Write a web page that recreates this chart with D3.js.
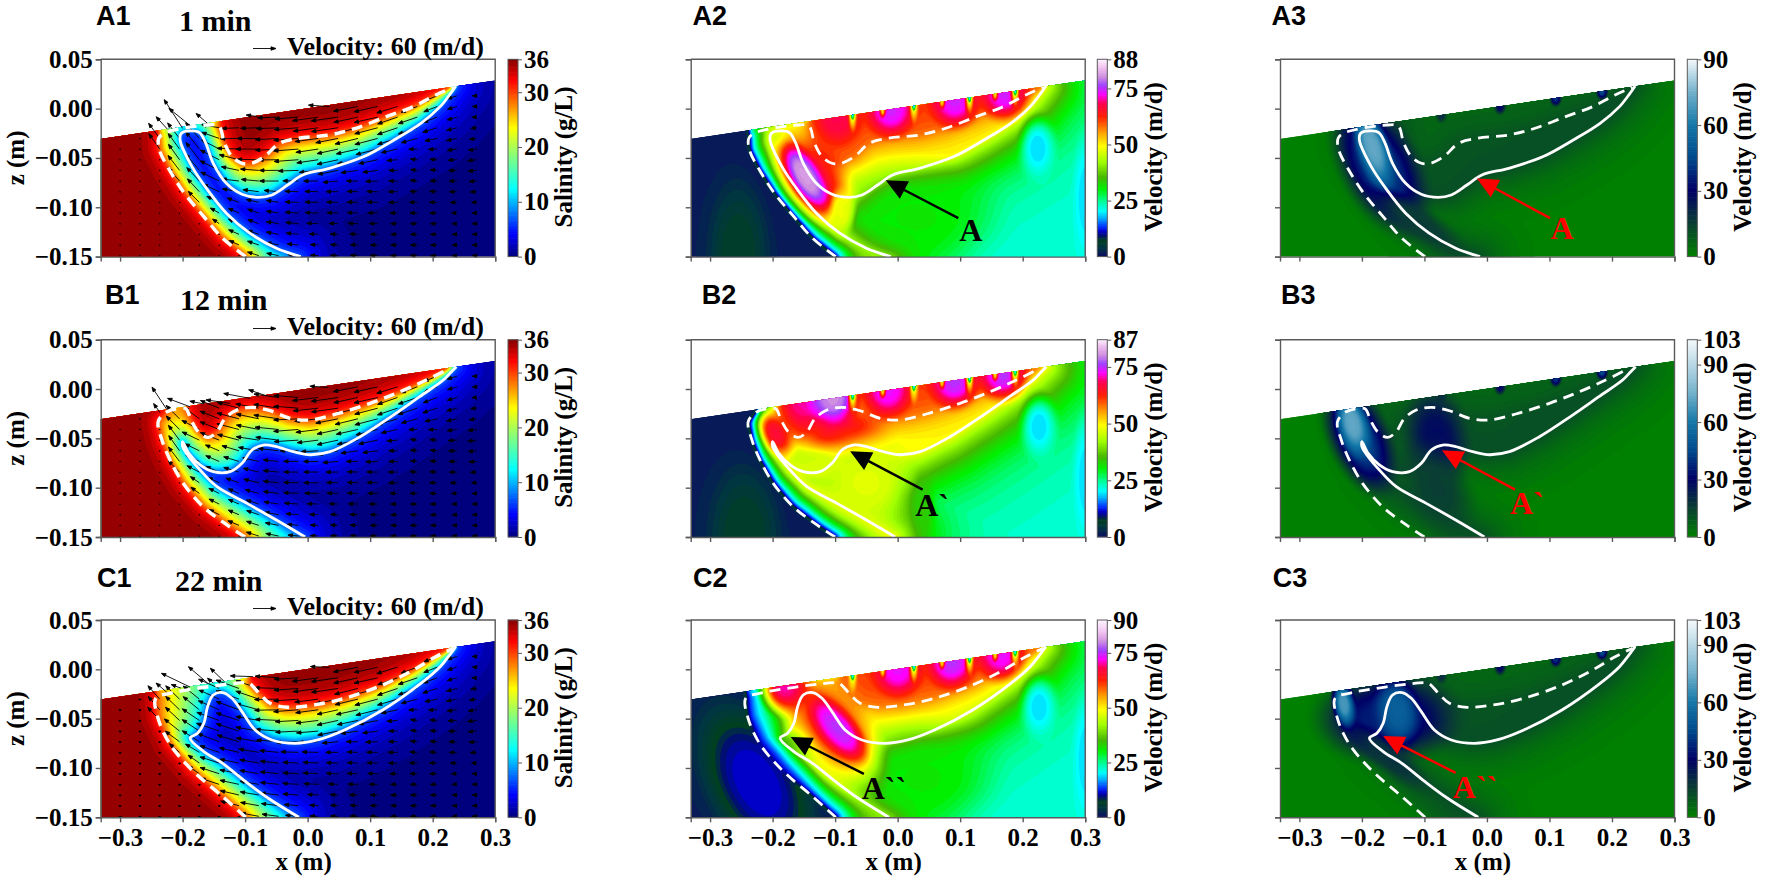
<!DOCTYPE html>
<html>
<head>
<meta charset="utf-8">
<script src="https://cdn.jsdelivr.net/npm/d3@7"></script>
<style>
  html, body { margin: 0; padding: 0; background: #fff; }
  svg { display: block; }
  text { font-family: "Liberation Serif", serif; font-weight: bold; fill: #000; }
  .head { font-family: "Liberation Sans", Arial, sans-serif; }
</style>
</head>
<body>
<svg id="fig" width="1772" height="879"></svg>
<script>
// ---- values, all in data units (x m, z m) ----
const xTicks = [-0.3, -0.2, -0.1, 0, 0.1, 0.2, 0.3];
const zTicks = [0.05, 0, -0.05, -0.1, -0.15];
const surfaceX = [-0.331, 0.3];
const surfaceZ = [-0.0307, 0.0284];
const rowNames = ["A", "B", "C"];
const rowTimes = ["1 min", "12 min", "22 min"];

// solid line = 10% salinity, dashed = 90% salinity
const solidA = [[-0.011,-0.15],[-0.05,-0.1416],[-0.093,-0.126],[-0.13,-0.106],[-0.16,-0.0824],[-0.185,-0.0588],[-0.204,-0.0318],[-0.202,-0.025],[-0.188,-0.0226],[-0.173,-0.0243],[-0.163,-0.035],[-0.151,-0.0554],[-0.13,-0.0757],[-0.105,-0.0868],[-0.078,-0.0899],[-0.057,-0.0875],[-0.032,-0.0774],[-0.008,-0.0672],[0.035,-0.0605],[0.09,-0.0486],[0.138,-0.0318],[0.181,-0.0149],[0.212,0.002],[0.227,0.0139],[0.237,0.023]];
const wedgeA = [[-0.099,-0.15],[-0.136,-0.1314],[-0.166,-0.1095],[-0.197,-0.0858],[-0.221,-0.0622],[-0.237,-0.0419],[-0.238,-0.03]];
const linkA = [[-0.227,-0.0243],[-0.16,-0.0166]];
const uspA = [[-0.142,-0.0176],[-0.133,-0.0351],[-0.121,-0.0486],[-0.105,-0.0554],[-0.09,-0.0554],[-0.069,-0.0486],[-0.045,-0.0351],[-0.014,-0.03],[0.035,-0.0267],[0.077,-0.0199],[0.126,-0.0081],[0.169,0.002],[0.205,0.0139],[0.233,0.0216]];

const solidB = [[-0.004,-0.15],[-0.05,-0.1328],[-0.097,-0.1159],[-0.145,-0.099],[-0.172,-0.0821],[-0.19,-0.0686],[-0.2,-0.0584],[-0.2,-0.0534],[-0.19,-0.0652],[-0.172,-0.077],[-0.151,-0.0838],[-0.124,-0.0838],[-0.105,-0.0753],[-0.089,-0.0618],[-0.071,-0.0568],[-0.05,-0.0584],[-0.023,-0.0635],[0.004,-0.0666],[0.036,-0.0635],[0.084,-0.0483],[0.137,-0.0264],[0.179,-0.0078],[0.217,0.0091],[0.23,0.0176],[0.238,0.0226]];
const wedgeB = [[-0.1,-0.15],[-0.129,-0.1378],[-0.167,-0.1193],[-0.199,-0.0956],[-0.22,-0.072],[-0.233,-0.0517],[-0.239,-0.0331],[-0.225,-0.023]];
const linkB = [[-0.196,-0.0196]];
const uspB = [[-0.193,-0.0213],[-0.185,-0.0331],[-0.175,-0.0432],[-0.159,-0.049],[-0.145,-0.0432],[-0.132,-0.0297],[-0.113,-0.0213],[-0.089,-0.0186],[-0.06,-0.022],[-0.028,-0.0297],[0.004,-0.0314],[0.046,-0.0253],[0.1,-0.0145],[0.148,-0.0027],[0.19,0.0091],[0.227,0.0209]];

const solidC = [[-0.014,-0.15],[-0.063,-0.1307],[-0.099,-0.1139],[-0.136,-0.0953],[-0.166,-0.0834],[-0.188,-0.0699],[-0.176,-0.0649],[-0.166,-0.0547],[-0.16,-0.0378],[-0.151,-0.026],[-0.136,-0.0236],[-0.121,-0.0294],[-0.105,-0.0429],[-0.084,-0.0615],[-0.057,-0.0716],[-0.02,-0.075],[0.016,-0.0716],[0.059,-0.0615],[0.12,-0.0412],[0.181,-0.0142],[0.212,0.0027],[0.227,0.0145],[0.237,0.023]];
const wedgeC = [[-0.099,-0.15],[-0.136,-0.129],[-0.185,-0.102],[-0.221,-0.075],[-0.24,-0.048],[-0.243,-0.0294]];
const linkC = [[-0.221,-0.0243],[-0.099,-0.0135]];
const uspC = [[-0.093,-0.0142],[-0.075,-0.026],[-0.06,-0.0345],[-0.032,-0.0385],[0.01,-0.0361],[0.059,-0.0294],[0.12,-0.0159],[0.169,-0.0007],[0.205,0.0128],[0.233,0.0213]];

// colour bars: value stops and colours
const salStops = [0, 4, 12.2, 18, 23.4, 32, 36];
const salColors = ["#00007f", "#0000ff", "#00ffff", "#80ff80", "#ffff00", "#ff0000", "#7f0000"];
const velStops = [0, 4, 7, 9, 11, 13, 17, 20, 24, 30, 35, 42, 49, 55, 62, 68, 72, 76, 80, 84];
const velColors = ["#0a1060", "#00363f", "#004020", "#000f70", "#0000c8", "#0030ff", "#00b0ff", "#00ffff", "#00ffa0", "#00f000", "#45b800", "#a0ff00", "#ffff00", "#ffa000", "#ff2000", "#ff0050", "#ff00ff", "#a040ff", "#d090e0", "#f0c0f0", "#fff8ff"];
const devStops = [0, 15, 30, 45, 60, 75];
const devColors = ["#008000", "#0a3d33", "#000066", "#004a8c", "#1478a8", "#74b2cc", "#f6fafc"];

const salMax = [36, 36, 36];
const velMax = [88, 87, 90];
const devMax = [90, 103, 103];
const salTicks = [0, 10, 20, 30];
const velTicks = [0, 25, 50, 75];
const devTicks = [0, 30, 60, 90];

// zone values: [near line, far away, fall-off in px]
const salField = { wedge: 30, usp: 30, solid: 7, left: [30, 36, 8], top: [30, 36, 10], fresh: [7, 0, 24] };
const velFieldA = { wedge: 9, usp: 58, solid: 50, left: [1, 2, 15], top: [58, 62, 15], fresh: [48, 22, 28] };
const velFieldB = { wedge: 9, usp: 57, solid: 50, left: [1, 2, 15], top: [57, 62, 15], fresh: [49, 22, 34] };
const velFieldC = { wedge: 9, usp: 57, solid: 47, left: [1, 2, 15], top: [57, 62, 15], fresh: [47, 22, 28] };
const devField = { wedge: 5, usp: 11, solid: 12, left: [3, 0, 20], top: [11, 6, 15], fresh: [12, 0, 22] };

// soft patches in the fields: x, z, long radius px, short radius px, value, angle deg
const patchesA2 = [[-0.255,-0.15,42,105,6.8,0],[0.03,-0.11,105,70,31,0],[-0.135,-0.07,66,40,66,56],[-0.09,-0.105,18,30,48,0],[-0.148,-0.069,52,20,81,58],[0.224,-0.04,24,42,19.5,0],[0.3,-0.09,16,80,19.5,0]];
const patchesB2 = [[-0.245,-0.15,50,100,6.8,0],[-0.195,-0.045,34,20,66,60],[-0.09,-0.042,62,32,65,0],[-0.05,-0.095,70,65,47,0],[-0.133,-0.075,34,16,46,0],[0.04,-0.12,16,45,34,0],[0.226,-0.038,24,42,19.5,0],[0.3,-0.09,16,80,19.5,0]];
const patchesC2 = [[-0.225,-0.115,115,65,11.5,62],[0.04,-0.11,95,70,31,0],[-0.105,-0.06,88,44,64,52],[-0.096,-0.06,50,22,75,50],[0.226,-0.038,24,42,19.5,0],[0.3,-0.09,16,80,19.5,0]];
const patchesA3 = [[-0.172,-0.059,88,46,42,62],[-0.11,-0.115,72,20,16,35],[-0.183,-0.0385,56,20,72,72]];
const patchesB3 = [[-0.205,-0.05,72,36,44,65],[-0.08,-0.05,62,38,28,80],[-0.08,-0.1,62,40,15,60],[-0.215,-0.035,42,20,72,75]];
const patchesC3 = [[-0.16,-0.05,85,52,36,0],[-0.155,-0.09,62,18,18,40],[-0.144,-0.042,46,28,52,80],[-0.229,-0.035,32,14,68,80]];

// surface outflow cells: x, peak value
const lobesA = [[-0.097,68],[-0.011,74],[0.091,74],[0.171,74]];
const lobesB = [[-0.15,70],[-0.104,80],[-0.016,73],[0.09,75],[0.168,75]];
const lobesC = [[-0.18,70],[-0.0,73],[0.086,75],[0.165,73]];
const spikeX = [-0.072, 0.026, 0.115, 0.188];
const smallSpikeX = [-0.024, 0.071, 0.156];
const devSpikes = [[0.11,40],[0.184,45],[0.021,30],[-0.073,20]];

// velocity samples for the quiver (m/d): x, z, u, w
const flowCommon = [[0.28,0.01,-12,0],[0.28,-0.13,-12,0],[0.15,-0.13,-18,0],[0.05,-0.14,-20,1],[0.18,-0.06,-18,2],[0.08,-0.09,-28,1],[0.2,0.012,-35,-14],[0.15,-0.01,-52,-18],[0.1,-0.02,-60,-16],[0.12,-0.005,-62,-14],[0.05,-0.01,-70,-10],[0.05,-0.045,-55,-12],[-0.02,-0.04,-65,-5]];
const flowA = [[-0.16,-0.125,-16,12],[-0.2,-0.08,-30,35],[-0.22,-0.05,-28,40],[-0.18,-0.05,-35,45],[-0.1,-0.11,-28,12],[-0.05,-0.1,-32,5],[0,-0.09,-35,1],[-0.13,-0.06,-50,25],[-0.1,-0.07,-45,5],[-0.05,-0.065,-50,0],[-0.09,-0.04,-60,0],[-0.1,-0.02,-45,-2]];
const flowB = [[-0.22,-0.06,-28,40],[-0.2,-0.03,-35,35],[-0.15,-0.045,-50,20],[-0.1,-0.04,-58,15],[-0.15,-0.07,-35,15],[-0.17,-0.11,-22,16],[-0.12,-0.11,-28,12],[-0.1,-0.08,-40,12],[-0.05,-0.08,-40,4],[-0.06,-0.05,-60,8],[-0.04,-0.025,-65,10],[0,-0.08,-38,0]];
const flowC = [[-0.22,-0.04,-30,35],[-0.19,-0.04,-42,35],[-0.17,-0.06,-45,30],[-0.19,-0.1,-22,22],[-0.15,-0.1,-50,16],[-0.1,-0.1,-50,10],[-0.05,-0.1,-48,5],[0,-0.1,-40,2],[-0.13,-0.06,-60,20],[-0.1,-0.03,-60,22],[-0.07,-0.06,-60,10],[-0.02,-0.06,-60,-3]];
// seawater on the left of the wedge barely moves, straight down (m/d)
const leftDrop = [1.5, 1.5, 3.5];
// arrows leaving through the seabed
const exitA = [[-0.224,-0.021,-30,33],[-0.2,-0.02,-48,75],[-0.187,-0.0176,-57,46],[-0.16,-0.015,-30,26],[-0.08,-0.008,-30,4],[0.035,0.002,-55,4]];
const exitB = [[-0.225,-0.021,-39,59],[-0.236,-0.024,-17,24],[-0.188,-0.018,-59,22],[-0.167,-0.015,-35,7],[-0.124,-0.0145,-63,9],[-0.092,-0.0095,-69,13],[-0.065,-0.007,-48,16],[0.033,0.0017,-48,3]];
const exitC = [[-0.224,-0.024,-30,26],[-0.188,-0.018,-75,36],[-0.203,-0.019,-25,9],[-0.16,-0.014,-50,43],[-0.151,-0.014,-15,13],[-0.133,-0.0125,-37,35],[-0.087,-0.0074,-60,2],[0.035,0.002,-50,2]];

// annotation arrows: tail x, tail z, tip x, tip z, label x, label z
const noteLabels = ["A", "A`", "A``"];
const notesVel = [[0.097,-0.111,-0.015,-0.074,0.117,-0.123],[0.04,-0.102,-0.072,-0.0645,0.055,-0.118],[-0.054,-0.106,-0.167,-0.07,-0.022,-0.12]];
const notesDev = [[0.101,-0.111,-0.012,-0.0723,0.12,-0.121],[0.045,-0.102,-0.068,-0.0635,0.064,-0.116],[-0.05,-0.105,-0.162,-0.069,-0.019,-0.119]];

// ---- layout ----
const plotLeft = [100.7, 690.7, 1280];
const barLeft = [508, 1097.3, 1687.3];
const plotTop = [59.3, 339.7, 620];
const W = 394.5, H = 197.3;
const step = 1.5;
const nx = Math.ceil(W / step), ny = Math.ceil(H / step);
const headX = [[96, 692.5, 1271.5], [105, 701.7, 1281], [97, 693, 1272.7]];
const headY = [25, 304, 587];
const timeX = [179, 180, 175];
const timeY = [31, 310, 591];
const velY = [55, 335, 615];

const svg = d3.select("#fig");
const fx = d3.scaleLinear().domain([-0.331, 0.3]).range([0, W]);
const fz = d3.scaleLinear().domain([0.05, -0.15]).range([0, H]);
const surface = d3.scaleLinear().domain(surfaceX).range(surfaceZ);
const speed = d3.scaleLinear().domain([0, 60]).range([0, 23]); // quiver key: 60 m/d
const toPx = p => [fx(p[0]), fz(p[1])];
const smooth = d3.line().curve(d3.curveCatmullRom.alpha(0.5));

function segDist(px, py, line) {
  var best = 1e9;
  for (var i = 0; i < line.length - 1; i++) {
    var ax = line[i][0], ay = line[i][1];
    var dx = line[i + 1][0] - ax, dy = line[i + 1][1] - ay;
    var t = ((px - ax) * dx + (py - ay) * dy) / (dx * dx + dy * dy);
    t = Math.max(0, Math.min(1, t));
    var ex = ax + t * dx - px, ey = ay + t * dy - py;
    var d = ex * ex + ey * ey;
    if (d < best) best = d;
  }
  return Math.sqrt(best) + 0.01;
}

function leftPolygon(wedge) {
  var w = wedge.map(toPx);
  return w.concat([[w[w.length - 1][0], -100], [-200, -100], [-200, 500], [w[0][0], 500]]);
}

// zones and distances to the three lines, once per time step
function rowGeometry(solid, wedge, usp) {
  var s = solid.map(toPx), w = wedge.map(toPx), u = usp.map(toPx);
  var freshPoly = s.concat([[s[s.length - 1][0], -100], [900, -100], [900, 500], [s[0][0], 500]]);
  var leftPoly = leftPolygon(wedge);
  var topPoly = u.concat([[u[u.length - 1][0], -100], [u[0][0], -100]]);
  var zone = new Uint8Array(nx * ny);
  var dS = new Float32Array(nx * ny), dW = new Float32Array(nx * ny), dU = new Float32Array(nx * ny);
  for (var j = 0; j < ny; j++) {
    for (var i = 0; i < nx; i++) {
      var k = j * nx + i, p = [(i + 0.5) * step, (j + 0.5) * step];
      if (d3.polygonContains(freshPoly, p)) { zone[k] = 3; dS[k] = segDist(p[0], p[1], s); }
      else if (d3.polygonContains(leftPoly, p)) { zone[k] = 0; dW[k] = segDist(p[0], p[1], w); }
      else if (d3.polygonContains(topPoly, p)) { zone[k] = 1; dU[k] = segDist(p[0], p[1], u); }
      else {
        zone[k] = 2;
        dS[k] = segDist(p[0], p[1], s);
        dW[k] = segDist(p[0], p[1], w);
        dU[k] = segDist(p[0], p[1], u);
      }
    }
  }
  return { zone, dS, dW, dU };
}

function fade(z, d) { return z[1] + (z[0] - z[1]) * Math.exp(-d / z[2]); }

function buildField(geo, cfg, patches) {
  var v = new Float64Array(nx * ny);
  for (var k = 0; k < v.length; k++) {
    var zone = geo.zone[k];
    if (zone == 3) v[k] = fade(cfg.fresh, geo.dS[k]);
    else if (zone == 0) v[k] = fade(cfg.left, geo.dW[k]);
    else if (zone == 1) v[k] = fade(cfg.top, geo.dU[k]);
    else {
      var a = 1 / geo.dS[k], b = 1 / geo.dW[k], c = 1 / geo.dU[k];
      v[k] = (cfg.solid * a + cfg.wedge * b + cfg.usp * c) / (a + b + c);
    }
  }
  if (d3.blur2) d3.blur2({ data: v, width: nx, height: ny }, 1);
  patches.forEach(function(p) {
    var cx = fx(p[0]), cy = fz(p[1]), ang = (p[5] || 0) * Math.PI / 180;
    var cos = Math.cos(ang), sin = Math.sin(ang), reach = Math.max(p[2], p[3]);
    var i0 = Math.max(0, Math.floor((cx - reach) / step)), i1 = Math.min(nx - 1, Math.ceil((cx + reach) / step));
    var j0 = Math.max(0, Math.floor((cy - reach) / step)), j1 = Math.min(ny - 1, Math.ceil((cy + reach) / step));
    for (var j = j0; j <= j1; j++) {
      for (var i = i0; i <= i1; i++) {
        var dx = (i + 0.5) * step - cx, dy = (j + 0.5) * step - cy;
        var du = (dx * cos + dy * sin) / p[2], dv = (dy * cos - dx * sin) / p[3];
        var r = Math.sqrt(du * du + dv * dv);
        if (r >= 1) continue;
        var t = Math.max(0, (r - 0.2) / 0.8);
        var m = 1 - t * t * (3 - 2 * t);
        var k = j * nx + i;
        v[k] += (p[4] - v[k]) * m;
      }
    }
  });
  return v;
}

function surfacePatches(lobes, spikes, small) {
  var out = [];
  lobes.forEach(l => out.push([l[0], surface(l[0]), 32, 36, l[1], 0]));
  spikes.forEach(x => out.push([x, surface(x), 6, 22, 50, 0]));
  spikes.forEach(x => out.push([x, surface(x), 3, 7, 20, 0]));
  small.forEach(x => out.push([x, surface(x), 4, 9, 52, 0]));
  return out;
}

function arrowPath(x0, y0, x1, y1, hl, hw) {
  var dx = x1 - x0, dy = y1 - y0, len = Math.sqrt(dx * dx + dy * dy) || 1;
  hl = Math.min(hl, len);
  hw = Math.min(hw, len * 0.8);
  var ux = dx / len, uy = dy / len;
  var bx = x1 - ux * hl, by = y1 - uy * hl;
  return "M" + x0 + "," + y0 + "L" + bx + "," + by +
    "M" + (bx - uy * hw) + "," + (by + ux * hw) + "L" + x1 + "," + y1 + "L" + (bx + uy * hw) + "," + (by - ux * hw) + "Z";
}

function drawAxes(g, showX, showY) {
  var xa = d3.axisBottom(fx).tickValues(xTicks).tickSize(5).tickPadding(6)
    .tickFormat(showX ? d3.format(".1f") : "");
  var za = d3.axisLeft(fz).tickValues(zTicks).tickSize(5).tickPadding(3)
    .tickFormat(showY ? d3.format(".2f") : "");
  [g.append("g").attr("transform", "translate(0," + H + ")").call(xa), g.append("g").call(za)].forEach(function(a) {
    a.selectAll(".domain, .tick line").attr("stroke", "#5a5a5a").attr("stroke-width", 1.4);
    a.selectAll("text").attr("font-size", 25).attr("font-family", "Liberation Serif").attr("fill", "#000");
  });
  g.append("path").attr("d", "M0,0H" + W + "V" + H).attr("fill", "none").attr("stroke", "#5a5a5a").attr("stroke-width", 1.4);
}

function drawBar(x, y, color, max, ticks, label, labelX) {
  var g = svg.append("g").attr("transform", "translate(" + x + "," + y + ")");
  var bar = d3.scaleLinear().domain([0, max]).range([H, 0]);
  var cells = d3.range(0, max, max / 120);
  g.selectAll("rect").data(cells).join("rect")
    .attr("x", 0).attr("width", 10)
    .attr("y", d => bar(d + max / 120) - 0.3)
    .attr("height", d => bar(d) - bar(d + max / 120) + 0.6)
    .attr("fill", d => color(d));
  g.append("rect").attr("width", 10).attr("height", H).attr("fill", "none").attr("stroke", "#5a5a5a").attr("stroke-width", 1);
  var a = g.append("g").attr("transform", "translate(10,0)")
    .call(d3.axisRight(bar).tickValues(ticks.concat(ticks.indexOf(max) < 0 ? [max] : [])).tickSize(4).tickPadding(2).tickFormat(d3.format("d")));
  a.select(".domain").remove();
  a.selectAll(".tick line").attr("stroke", "#5a5a5a");
  a.selectAll("text").attr("font-size", 25).attr("font-family", "Liberation Serif").attr("fill", "#000");
  svg.append("text").attr("text-anchor", "middle").attr("font-size", 25)
    .attr("transform", "translate(" + labelX + "," + (y + H / 2 - 1) + ") rotate(-90)").text(label);
}

function drawPanel(id, left, top, geo, cfg, patches, color, levels) {
  var g = svg.append("g").attr("transform", "translate(" + left + "," + top + ")");
  var sea = [[surfaceX[0], -0.15], [surfaceX[0], surfaceZ[0]], [surfaceX[1], surfaceZ[1]], [surfaceX[1], -0.15]].map(toPx);
  g.append("clipPath").attr("id", id).append("path").attr("d", d3.line()(sea) + "Z");
  var field = g.append("g").attr("clip-path", "url(#" + id + ")");
  var values = buildField(geo, cfg, patches);
  var path = d3.geoPath(d3.geoTransform({ point: function(x, y) { this.stream.point(x * step, y * step); } }));
  field.append("rect").attr("width", W).attr("height", H).attr("fill", color(d3.min(values)));
  field.selectAll("path")
    .data(d3.contours().size([nx, ny]).thresholds(levels)(values))
    .join("path").attr("d", path).attr("fill", d => color(d.value));
  return g;
}

function drawLines(g, solid, dashed, dashW) {
  var clip = g.append("g");
  clip.append("path").attr("d", smooth(dashed.map(toPx))).attr("fill", "none")
    .attr("stroke", "#fff").attr("stroke-width", dashW).attr("stroke-dasharray", "11,7");
  clip.append("path").attr("d", smooth(solid.map(toPx))).attr("fill", "none")
    .attr("stroke", "#fff").attr("stroke-width", 2.8);
}

function drawNote(g, note, text, colour) {
  var a = toPx([note[0], note[1]]), b = toPx([note[2], note[3]]);
  g.append("path").attr("d", arrowPath(a[0], a[1], b[0], b[1], 17, 8)).attr("fill", colour)
    .attr("stroke", colour).attr("stroke-width", 2.4).attr("stroke-linejoin", "miter");
  g.append("text").attr("x", fx(note[4])).attr("y", fz(note[5]) + 11).attr("text-anchor", "middle")
    .attr("font-size", 32).style("fill", colour).text(text);
}

function drawQuiver(g, flow, exits, wedge, drop) {
  var leftPoly = leftPolygon(wedge);
  var nodes = [];
  for (var x = -0.3; x < 0.29; x += 0.0317) {
    for (var z = -0.149; z < surface(x) - 0.004; z += 0.0108) nodes.push([x, z]);
  }
  var arrows = nodes.map(function(n) {
    var a = toPx(n), su = 0, sw = 0, sum = 0;
    if (d3.polygonContains(leftPoly, a)) return [n[0], n[1], 0, -drop];
    flow.forEach(function(c) {
      var p = toPx(c), dx = p[0] - a[0], dy = p[1] - a[1];
      var w = 1 / Math.pow(dx * dx + dy * dy + 4, 2);
      su += c[2] * w; sw += c[3] * w; sum += w;
    });
    return [n[0], n[1], su / sum, sw / sum];
  }).concat(exits);
  g.append("g").selectAll("path").data(arrows).join("path")
    .attr("d", function(d) {
      var a = toPx(d);
      var u = speed(Math.abs(d[2])) * Math.sign(d[2]), w = speed(Math.abs(d[3])) * Math.sign(d[3]);
      return arrowPath(a[0], a[1], a[0] + u, a[1] - w, 4.5, 1.7);
    })
    .attr("fill", "#000").attr("stroke", "#000").attr("stroke-width", 0.9);
}

// ---- build the figure ----
const salColor = d3.scaleLinear().domain(salStops).range(salColors).clamp(true);
const rows = [
  { solid: solidA, wedge: wedgeA, link: linkA, usp: uspA, vel: velFieldA, p2: patchesA2, p3: patchesA3, lobes: lobesA, flow: flowA, exits: exitA },
  { solid: solidB, wedge: wedgeB, link: linkB, usp: uspB, vel: velFieldB, p2: patchesB2, p3: patchesB3, lobes: lobesB, flow: flowB, exits: exitB },
  { solid: solidC, wedge: wedgeC, link: linkC, usp: uspC, vel: velFieldC, p2: patchesC2, p3: patchesC3, lobes: lobesC, flow: flowC, exits: exitC }
];

rows.forEach(function(row, r) {
  var top = plotTop[r];
  var geo = rowGeometry(row.solid, row.wedge, row.usp);
  var dashed = row.wedge.concat(row.link, row.usp);
  var velColor = d3.scaleLinear().domain(velStops.concat([velMax[r]])).range(velColors).clamp(true);
  var devColor = d3.scaleLinear().domain(devStops.concat([devMax[r]])).range(devColors).clamp(true);
  var last = r == 2;

  // salinity + quiver
  var p1 = drawPanel("f" + r + "a", plotLeft[0], top, geo, salField, [], salColor, d3.range(0, 36, 0.75));
  drawQuiver(p1, flowCommon.concat(row.flow), row.exits, row.wedge, leftDrop[r]);
  drawLines(p1, row.solid, dashed, 3.4);
  drawAxes(p1, last, true);
  drawBar(barLeft[0], top, salColor, salMax[r], salTicks.concat([36]), "Salinity (g/L)", 572);

  // velocity
  var p2 = drawPanel("f" + r + "b", plotLeft[1], top, geo, row.vel, row.p2.concat(surfacePatches(row.lobes, spikeX, smallSpikeX)), velColor, d3.range(0, velMax[r], 1));
  drawLines(p2, row.solid, dashed, 2.8);
  drawNote(p2, notesVel[r], noteLabels[r], "#000");
  drawAxes(p2, last, false);
  drawBar(barLeft[1], top, velColor, velMax[r], velTicks, "Velocity (m/d)", 1162);

  // velocity difference
  var spikes = devSpikes.map(s => [s[0], surface(s[0]), 7, 10, s[1], 0]);
  var p3 = drawPanel("f" + r + "c", plotLeft[2], top, geo, devField, row.p3.concat(spikes), devColor, d3.range(0, devMax[r], 1));
  drawLines(p3, row.solid, dashed, 2.8);
  drawNote(p3, notesDev[r], noteLabels[r], "#ff0000");
  drawAxes(p3, last, false);
  drawBar(barLeft[2], top, devColor, devMax[r], devTicks, "Velocity (m/d)", 1751);

  // headings
  ["1", "2", "3"].forEach(function(c, i) {
    svg.append("text").attr("class", "head").attr("x", headX[r][i]).attr("y", headY[r])
      .attr("font-size", 27).text(rowNames[r] + c);
  });
  svg.append("text").attr("x", timeX[r]).attr("y", timeY[r]).attr("font-size", 30).text(rowTimes[r]);
  svg.append("text").attr("x", 287).attr("y", velY[r]).attr("font-size", 26).text("Velocity: 60 (m/d)");
  svg.append("path").attr("d", arrowPath(253, velY[r] - 6.5, 253 + speed(60), velY[r] - 6.5, 5, 1.7))
    .attr("fill", "#000").attr("stroke", "#000").attr("stroke-width", 0.9);

  svg.append("text").attr("text-anchor", "middle").attr("font-size", 25)
    .attr("transform", "translate(24," + (top + H / 2) + ") rotate(-90)").text("z (m)");
});

plotLeft.forEach(function(l) {
  svg.append("text").attr("x", l + fx(0) - 4).attr("y", 870).attr("text-anchor", "middle").attr("font-size", 25).text("x (m)");
});
</script>
</body>
</html>
